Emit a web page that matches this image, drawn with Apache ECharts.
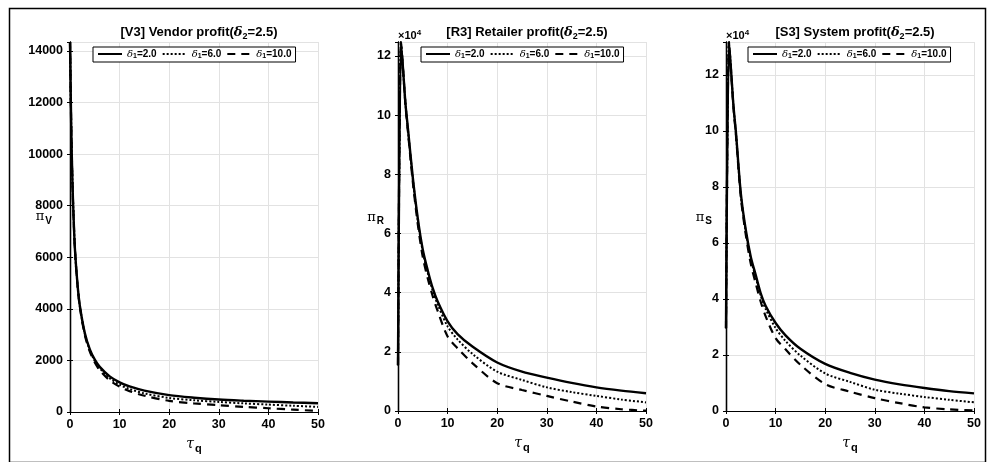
<!DOCTYPE html>
<html>
<head>
<meta charset="utf-8">
<script src="https://cdn.jsdelivr.net/npm/echarts/dist/echarts.min.js"></script>
<style>
  html, body { margin: 0; padding: 0; background: #fff; }
  #chart { width: 990px; height: 462px; }
</style>
</head>
<body>
<div id="chart"></div>
<script>
// Lead-time parameter tau_q
const tauV = [0, 0.25, 0.5, 0.75, 1, 1.5, 2, 3, 4, 5, 6, 8, 10, 12, 15, 20, 25, 30, 35, 40, 45, 50];
const tauRS = [0, 0.6, 1, 1.5, 2, 3, 4, 5, 6, 7, 8, 10, 12, 15, 20, 25, 30, 35, 40, 45, 50];

// delta_1 levels
const deltaLevels = ['2.0', '6.0', '10.0'];

// Vendor profit
const vendorD2 = [14350, 11050, 8860, 7410, 6300, 4980, 4100, 3050, 2430, 2030, 1750, 1380, 1150, 990, 830, 655, 555, 482, 438, 404, 370, 340];
const vendorD6 = [14350, 11050, 8860, 7405, 6290, 4965, 4080, 3020, 2390, 1980, 1695, 1310, 1060, 890, 720, 545, 455, 392, 335, 288, 242, 198];
const vendorD10 = [14350, 11050, 8855, 7400, 6280, 4950, 4050, 2975, 2340, 1920, 1620, 1230, 980, 810, 630, 431, 335, 263, 200, 145, 92, 40];

// Retailer profit (x 10^4)
const retailerD2 = [1.55, 12.47, 11.6, 10.4, 9.55, 7.87, 6.5, 5.45, 4.75, 4.15, 3.7, 3.03, 2.6, 2.18, 1.64, 1.33, 1.13, 0.95, 0.80, 0.69, 0.60];
const retailerD6 = [1.55, 12.47, 11.6, 10.4, 9.5, 7.82, 6.42, 5.38, 4.66, 4.07, 3.6, 2.86, 2.42, 1.93, 1.33, 1.05, 0.80, 0.64, 0.51, 0.39, 0.29];
const retailerD10 = [1.55, 12.47, 11.6, 10.35, 9.45, 7.72, 6.3, 5.2, 4.48, 3.88, 3.38, 2.52, 2.12, 1.62, 0.94, 0.71, 0.51, 0.32, 0.15, 0.06, 0.01];

// System profit (x 10^4)
const systemD2 = [2.95, 13.17, 12.2, 10.9, 9.95, 7.75, 6.45, 5.5, 4.85, 4.2, 3.75, 3.14, 2.7, 2.22, 1.68, 1.36, 1.12, 0.95, 0.82, 0.71, 0.63];
const systemD6 = [2.95, 13.17, 12.2, 10.9, 9.9, 7.7, 6.38, 5.42, 4.76, 4.12, 3.64, 2.96, 2.5, 1.98, 1.34, 1.04, 0.76, 0.62, 0.50, 0.40, 0.31];
const systemD10 = [2.95, 13.17, 12.2, 10.85, 9.85, 7.62, 6.28, 5.25, 4.55, 3.9, 3.38, 2.6, 2.2, 1.65, 0.96, 0.69, 0.46, 0.28, 0.13, 0.06, 0.02];

// Panel settings
const panelTitles = [
  ['[V3] Vendor profit(', '=2.5)'],
  ['[R3] Retailer profit(', '=2.5)'],
  ['[S3] System profit(', '=2.5)']
];
const yNames = ['V', 'R', 'S'];
const yMax = [14350, 12.47, 13.17];
const yStep = [2000, 2, 2];

const FONT = '"Liberation Sans", Arial, sans-serif';
const chart = echarts.init(document.getElementById('chart'));

const grids = [
  { left: 70, top: 42, width: 248, height: 370 },
  { left: 398, top: 42, width: 248, height: 369 },
  { left: 726, top: 42, width: 248, height: 369 }
];

const lineKinds = [
  { type: 'solid', width: 2.4 },
  { type: [2, 2], width: 2 },
  { type: [8, 6], width: 2.2 }
];

const seriesData = [
  { xs: tauV, ys: [vendorD2, vendorD6, vendorD10] },
  { xs: tauRS, ys: [retailerD2, retailerD6, retailerD10] },
  { xs: tauRS, ys: [systemD2, systemD6, systemD10] }
];

const xAxes = [], yAxes = [], series = [], titles = [], legends = [];

grids.forEach((g, i) => {
  const cx = g.left + g.width / 2;
  // bottom x axis
  xAxes.push({
    gridIndex: i, type: 'value', min: 0, max: 50, interval: 10,
    name: '{p|τ}{s|q}', nameLocation: 'middle', nameGap: 22, nameMoveOverlap: false,
    nameTextStyle: { rich: {
      p: { fontFamily: 'DejaVu Serif', fontStyle: 'italic', fontSize: 14, color: '#000' },
      s: { fontFamily: FONT, fontWeight: 'bold', fontSize: 11, color: '#000', padding: [9, 0, 0, 1] }
    } },
    axisLine: { lineStyle: { color: '#000', width: 1.2 } },
    axisTick: { inside: true, length: 3, lineStyle: { color: '#000' } },
    axisLabel: { color: '#000', fontFamily: FONT, fontWeight: 'bold', fontSize: 12.5, margin: 6 },
    splitLine: { show: true, lineStyle: { color: '#e2e2e2', width: 1 } }
  });
  // top x axis (box edge with ticks)
  xAxes.push({
    gridIndex: i, type: 'value', min: 0, max: 50, interval: 10, position: 'top',
    axisLine: { lineStyle: { color: '#000', width: 1.2 } },
    axisTick: { inside: true, length: 3, lineStyle: { color: '#000' } },
    axisLabel: { show: false }, splitLine: { show: false }
  });
  // left y axis
  yAxes.push({
    gridIndex: i, type: 'value', min: 0, max: yMax[i], interval: yStep[i],
    name: '{p|π}{s|' + yNames[i] + '}', nameLocation: 'middle', nameRotate: 0,
    nameGap: i === 0 ? 18 : 14, nameMoveOverlap: false,
    nameTextStyle: { rich: {
      p: { fontFamily: 'DejaVu Serif', fontSize: 13, color: '#000' },
      s: { fontFamily: FONT, fontWeight: 'bold', fontSize: 10, color: '#000', padding: [8, 0, 0, 1] }
    }, padding: [0, 0, i === 0 ? 20 : 18, 0] },
    axisLine: { show: true, lineStyle: { color: '#000', width: 1.4 } },
    axisTick: { show: true, inside: true, length: 3, lineStyle: { color: '#000' } },
    axisLabel: {
      color: '#000', fontFamily: FONT, fontWeight: 'bold', fontSize: 12.5, margin: 7, showMaxLabel: false,
      formatter: v => String(Math.round(v * 100) / 100)
    },
    splitLine: { show: true, lineStyle: { color: '#e2e2e2', width: 1 } }
  });
  // right y axis (box edge with ticks)
  yAxes.push({
    gridIndex: i, type: 'value', min: 0, max: yMax[i], interval: yStep[i], position: 'right',
    axisLine: { show: true, lineStyle: { color: '#000', width: 1.2 } },
    axisTick: { show: true, inside: true, length: 3, lineStyle: { color: '#000' } },
    axisLabel: { show: false }, splitLine: { show: false }
  });

  titles.push({
    text: '{a|' + panelTitles[i][0] + '}{g|δ}{s|2}{a|' + panelTitles[i][1] + '}',
    left: cx, top: 19, textAlign: 'center',
    textStyle: { rich: {
      a: { fontFamily: FONT, fontWeight: 'bold', fontSize: 13, color: '#000' },
      g: { fontFamily: 'DejaVu Serif', fontStyle: 'italic', fontSize: 13, color: '#000' },
      s: { fontFamily: FONT, fontWeight: 'bold', fontSize: 9, color: '#000', padding: [8, 0, 0, 0] }
    } }
  });

  legends.push({
    left: g.left + (i === 2 ? 22 : 23), top: 47,
    orient: 'horizontal', itemWidth: 24, itemHeight: 10, itemGap: 5,
    padding: [2, 4, 2, 4],
    borderColor: '#000', borderWidth: 1, backgroundColor: '#fff',
    itemStyle: { opacity: 0 },
    data: deltaLevels.map(d => 'δ1=' + d),
    formatter: name => '{g|δ}{s|1}{t|=' + name.split('=')[1] + '}',
    textStyle: { rich: {
      g: { fontFamily: 'DejaVu Serif', fontStyle: 'italic', fontSize: 10, color: '#000' },
      s: { fontFamily: FONT, fontWeight: 'bold', fontSize: 7, color: '#000', padding: [5, 0, 0, 0] },
      t: { fontFamily: FONT, fontWeight: 'bold', fontSize: 10, color: '#000' }
    } }
  });

  const sd = seriesData[i];
  sd.ys.forEach((ys, k) => {
    series.push({
      name: 'δ1=' + deltaLevels[k],
      type: 'line',
      xAxisIndex: i * 2, yAxisIndex: i * 2,
      data: sd.xs.map((x, j) => [x, ys[j]]),
      showSymbol: false, symbol: 'none',
      smooth: 0.3,
      lineStyle: { color: '#000', width: lineKinds[k].width, type: lineKinds[k].type },
      itemStyle: { color: '#000' },
      z: 3 - k,
      animation: false
    });
  });
});

const option = {
  backgroundColor: '#fff',
  animation: false,
  title: titles,
  legend: legends,
  grid: grids,
  xAxis: xAxes,
  yAxis: yAxes,
  series: series,
  graphic: [
    {
      type: 'rect', left: 7, top: 6, z: -1,
      shape: { width: 976, height: 454 },
      style: { fill: 'none', stroke: '#000', lineWidth: 1.5 }
    },
    {
      type: 'text', left: 398, top: 29,
      style: { text: '{a|×10}{s|4}', rich: {
        a: { fontFamily: FONT, fontWeight: 'bold', fontSize: 11, fill: '#000' },
        s: { fontFamily: FONT, fontWeight: 'bold', fontSize: 8, fill: '#000', padding: [0, 0, 6, 0] }
      } }
    },
    {
      type: 'text', left: 726, top: 29,
      style: { text: '{a|×10}{s|4}', rich: {
        a: { fontFamily: FONT, fontWeight: 'bold', fontSize: 11, fill: '#000' },
        s: { fontFamily: FONT, fontWeight: 'bold', fontSize: 8, fill: '#000', padding: [0, 0, 6, 0] }
      } }
    }
  ]
};

chart.setOption(option);
</script>
</body>
</html>
